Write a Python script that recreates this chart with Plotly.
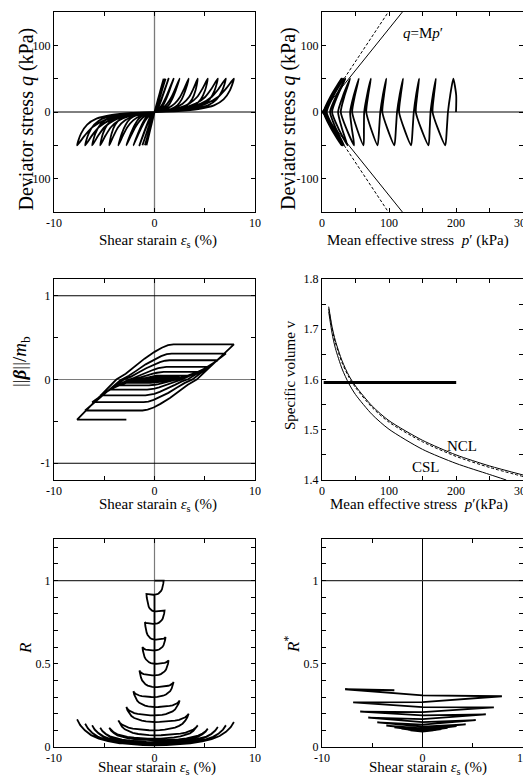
import plotly.graph_objects as go

FONT = "Liberation Serif"

# ---------------- values ----------------
# strain (%) at every q=+50 peak and q=-50 trough of the 12 load cycles
eps_peak   = [0.91, 1.0, 1.1, 1.4, 1.9, 2.5, 3.4, 4.3, 5.3, 6.3, 7.1, 7.9]
eps_trough = [-0.8, -0.95, -1.2, -1.5, -2.1, -2.8, -3.6, -4.5, -5.4, -6.2, -6.9, -7.7]
eps_final = -2.8
q_peak, q_trough = 50, -50
q_final = -4.7
cycle_curv = [0, 0, 0.1, 0.25, 0.45, 0.65, 0.85, 1, 1, 1, 1, 1]

# effective stress path (kPa)
p_load0 = [200, 200.3]
q_load0 = [0, 25]
p_peak   = [196, 170, 145, 121, 96, 73, 55, 42, 35, 32, 30, 29]
p_trough = [184, 159, 133, 108, 83, 62, 48, 38, 33, 31, 30, 29]
p_q0_unload = [188, 162, 137, 112, 87, 63, 42, 24, 12, 5, 3, 2.5]
p_q0_reload = [165, 140, 115, 90, 66, 45, 28, 15, 7, 4, 3]
p_final_path = [15, 5]
q_final_path = [-25, -4.5]
bulge = 0.42

# q = M p' lines: p' where they leave the frame at |q| = 150
p_edge_solid, p_edge_dashed, q_edge = 120, 99, 150

# ||beta||/mb at peaks / troughs
beta_peak   = [0.003, 0.006, 0.01, 0.015, 0.02, 0.03, 0.05, 0.09, 0.15, 0.23, 0.31, 0.42]
beta_trough = [-0.004, -0.008, -0.012, -0.018, -0.025, -0.04, -0.07, -0.12, -0.19, -0.27, -0.37, -0.48]

# R at peaks / troughs, level where each branch meets eps = 0, and the dip there
R_peak   = [1.0, 0.82, 0.66, 0.52, 0.39, 0.28, 0.20, 0.13, 0.11, 0.12, 0.13, 0.15]
R_trough = [0.92, 0.75, 0.60, 0.46, 0.335, 0.24, 0.16, 0.115, 0.115, 0.13, 0.14, 0.166]
R_axis = [0.915, 0.815, 0.74, 0.645, 0.58, 0.50, 0.43, 0.36, 0.30, 0.24, 0.19, 0.15,
          0.10, 0.07, 0.05, 0.04, 0.03, 0.025, 0.02, 0.015, 0.012, 0.01, 0.01]
R_dip = [0.805, 0.73, 0.635, 0.57, 0.49, 0.42, 0.35, 0.29, 0.23, 0.18, 0.14, 0.09,
         0.06, 0.04, 0.03, 0.02, 0.015, 0.01, 0.008, 0.006, 0.005, 0.004, 0.004]
R_start = 1.0
R_final = 0.03

# R* at peaks / troughs and at eps = 0 crossings
Rs_peak   = [0.10, 0.10, 0.10, 0.103, 0.108, 0.115, 0.125, 0.136, 0.162, 0.196, 0.238, 0.305]
Rs_trough = [0.10, 0.10, 0.10, 0.105, 0.11, 0.118, 0.128, 0.148, 0.176, 0.212, 0.268, 0.347]
Rs_mid_after_peak   = [0.095, 0.094, 0.093, 0.093, 0.094, 0.097, 0.105, 0.122, 0.15, 0.19, 0.24, 0.31]
Rs_mid_after_trough = [0.095, 0.094, 0.093, 0.093, 0.095, 0.10, 0.112, 0.135, 0.168, 0.21, 0.27]
Rs_start = 0.095
Rs_final = 0.341

# v - p' lines
p_line = [10, 15, 20, 30, 40, 50, 75, 100, 150, 200, 250, 300]
v_ncl  = [1.745, 1.705, 1.677, 1.637, 1.608, 1.587, 1.547, 1.518, 1.479, 1.450, 1.428, 1.410]
v_ncl2 = [1.741, 1.701, 1.673, 1.633, 1.605, 1.584, 1.544, 1.515, 1.476, 1.447, 1.425, 1.407]
p_csl  = [10, 15, 20, 30, 40, 50, 75, 100, 150, 200, 250, 275]
v_csl  = [1.735, 1.692, 1.662, 1.621, 1.592, 1.570, 1.530, 1.501, 1.461, 1.433, 1.411, 1.400]
v_path = 1.594

# normalised branch shapes read from the loops
unl_eps = [1, 0.9, 0.8, 0.65, 0.45, 0.22, 0]
unl_q   = [1, 0.7, 0.45, 0.25, 0.12, 0.05, 0]
rel_eps = [0, 0.3, 0.55, 0.75, 0.87, 0.95, 1]
rel_q   = [0, 0.03, 0.09, 0.2, 0.38, 0.65, 1]
beta_u = [0, 0.385, 0.42, 0.46, 0.506, 0.57, 0.635, 0.69, 0.75, 0.875, 1]
beta_v = [0, 0, 0.012, 0.045, 0.1, 0.19, 0.3, 0.39, 0.467, 0.733, 1]
R_load_e = [0, 0.15, 0.3, 0.45, 0.6, 0.72, 0.82, 0.9, 0.96, 1]
R_load_r = [0, 0.01, 0.04, 0.09, 0.17, 0.27, 0.4, 0.58, 0.78, 1]
R_unl_e = [1, 0.96, 0.9, 0.82, 0.72, 0.6, 0.45, 0.3, 0.15, 0]
R_unl_d = [0, 0.22, 0.42, 0.6, 0.73, 0.83, 0.91, 0.96, 0.99, 1]


def inter(a, b):
    out = []
    for x, y in zip(a, b):
        out += [x, y]
    return out


def blend(a, b, w):
    return [w * x + (1 - w) * y for x, y in zip(a, b)]


tips_e = inter(eps_peak, eps_trough)
tips_q = inter([q_peak] * 12, [q_trough] * 12)
tips_w = inter(cycle_curv, cycle_curv)
tips_p = inter(p_peak, p_trough)
tips_b = inter(beta_peak, beta_trough)
tips_R = inter(R_peak, R_trough)
tips_Rs = inter(Rs_peak, Rs_trough)
mid_Rs = inter(Rs_mid_after_peak, Rs_mid_after_trough + [0])[:23]
mid_p = inter(p_q0_unload, p_q0_reload + [0])[:23]
n = len(tips_e)

# ---- panel 1: q vs eps
x1, y1 = [0], [0]
le = blend(rel_eps, rel_q, tips_w[0])
for f, g in zip(le[1:], rel_q[1:]):
    x1.append(tips_e[0] * f); y1.append(tips_q[0] * g)
for j in range(n - 1):
    ue = blend(unl_eps, unl_q, tips_w[j])
    for f, g in zip(ue[1:], unl_q[1:]):
        x1.append(tips_e[j] * f); y1.append(tips_q[j] * g)
    le = blend(rel_eps, rel_q, tips_w[j + 1])
    for f, g in zip(le[1:], rel_q[1:]):
        x1.append(tips_e[j + 1] * f); y1.append(tips_q[j + 1] * g)
for f, g in zip(unl_eps[1:], unl_q[1:]):
    if tips_e[-1] * f > eps_final:
        break
    x1.append(tips_e[-1] * f); y1.append(tips_q[-1] * g)
x1.append(eps_final); y1.append(q_final)

# ---- panel 2: q vs p'
x2 = list(p_load0) + [tips_p[0]]
y2 = list(q_load0) + [tips_q[0]]
for j in range(n - 1):
    pA, qA, pB, qB, pm = tips_p[j], tips_q[j], tips_p[j + 1], tips_q[j + 1], mid_p[j]
    x2 += [pm + bulge * (pA - pm), pm, pm + bulge * (pB - pm), pB]
    y2 += [qA / 2, 0, qB / 2, qB]
x2 += p_final_path
y2 += q_final_path

# ---- panel 3: beta vs eps
x3, y3 = [0], [0]
for u, v in zip(beta_u[1:], beta_v[1:]):
    x3.append(tips_e[0] * u); y3.append(tips_b[0] * v)
for j in range(n - 1):
    eA, bA, eB, bB = tips_e[j], tips_b[j], tips_e[j + 1], tips_b[j + 1]
    for u, v in zip(beta_u[1:], beta_v[1:]):
        x3.append(eA + u * (eB - eA)); y3.append(bA + v * (bB - bA))
x3.append(eps_final); y3.append(tips_b[-1])

# ---- panel 5: R vs eps
x5, y5 = [0], [R_start]
for f, r in zip(R_load_e[1:], R_load_r[1:]):
    x5.append(tips_e[0] * f); y5.append(R_start + r * (tips_R[0] - R_start))
for j in range(n - 1):
    A = R_axis[j]
    for f, d in zip(R_unl_e[1:], R_unl_d[1:]):
        x5.append(tips_e[j] * f); y5.append(tips_R[j] - d * (tips_R[j] - A))
    x5 += [0, 0]; y5 += [R_dip[j], A]
    for f, r in zip(R_load_e[1:], R_load_r[1:]):
        x5.append(tips_e[j + 1] * f); y5.append(A + r * (tips_R[j + 1] - A))
for f, d in zip(R_unl_e[1:], R_unl_d[1:]):
    if tips_e[-1] * f > eps_final:
        break
    x5.append(tips_e[-1] * f); y5.append(tips_R[-1] - d * (tips_R[-1] - 0.008))
x5.append(eps_final); y5.append(R_final)

# ---- panel 6: R* vs eps
x6, y6 = [0, tips_e[0]], [Rs_start, tips_Rs[0]]
for j in range(n - 1):
    x6 += [0, tips_e[j + 1]]
    y6 += [mid_Rs[j], tips_Rs[j + 1]]
x6.append(eps_final); y6.append(Rs_final)

fig = go.Figure()
BL = dict(color="black", width=1.8)


def add(x, y, k, line=BL, shape="spline", smoothing=0.7):
    xa = "x" if k == 1 else f"x{k}"
    ya = "y" if k == 1 else f"y{k}"
    kw = dict(shape=shape)
    if shape == "spline":
        kw["smoothing"] = smoothing
    fig.add_trace(go.Scatter(x=x, y=y, mode="lines", xaxis=xa, yaxis=ya,
                             line=dict(**line, **kw), showlegend=False, hoverinfo="skip"))


shapes = []


def hline(k, y, x0, x1_, color="black", w=1):
    shapes.append(dict(type="line", xref=("x" if k == 1 else f"x{k}"), yref=("y" if k == 1 else f"y{k}"),
                       x0=x0, x1=x1_, y0=y, y1=y, line=dict(color=color, width=w), layer="below"))


def vline(k, x, y0, y1_, color="black", w=1):
    shapes.append(dict(type="line", xref=("x" if k == 1 else f"x{k}"), yref=("y" if k == 1 else f"y{k}"),
                       x0=x, x1=x, y0=y0, y1=y1_, line=dict(color=color, width=w), layer="below"))


GR = "#7a7a7a"
vline(1, 0, -150, 150, GR, 1.3); hline(1, 0, -10, 10)
hline(2, 0, 0, 300)
vline(3, 0, -1.2, 1.2, GR, 1.2); hline(3, 0, -10, 10, GR, 1.2); hline(3, 1, -10, 10); hline(3, -1, -10, 10)
vline(5, 0, 0, 1.25, GR, 1.2); hline(5, 1, -10, 10, "#333333", 1.2)
vline(6, 0, 0, 1.25, "black", 1); hline(6, 1, -10, 10, "#333333", 1.2)

add(x1, y1, 1)
add([0, p_edge_solid], [0, q_edge], 2, dict(color="black", width=1), "linear")
add([0, p_edge_solid], [0, -q_edge], 2, dict(color="black", width=1), "linear")
add([0, p_edge_dashed], [0, q_edge], 2, dict(color="black", width=1, dash="3px,2px"), "linear")
add([0, p_edge_dashed], [0, -q_edge], 2, dict(color="black", width=1, dash="3px,2px"), "linear")
add(x2, y2, 2, smoothing=0.6)
add(x3, y3, 3, shape="linear")
add(p_line, v_ncl, 4, dict(color="black", width=1))
add(p_line, v_ncl2, 4, dict(color="black", width=1, dash="3px,2px"))
add(p_csl, v_csl, 4, dict(color="black", width=1))
add([min(x2), max(x2)], [v_path, v_path], 4, dict(color="black", width=3), "linear")
add(x5, y5, 5, shape="linear")
add(x6, y6, 6, shape="linear")

tf = dict(family=FONT, size=12, color="black")


def ax(domain, rng, tv, tt, minor_vals, anchor):
    return dict(domain=domain, range=rng, tickmode="array", tickvals=tv, ticktext=tt, anchor=anchor,
                showline=True, linecolor="black", linewidth=1, mirror="allticks",
                ticks="inside", ticklen=4, tickcolor="black", tickwidth=1,
                minor=dict(tickmode="array", tickvals=minor_vals, ticks="inside", ticklen=4,
                           tickcolor="black", tickwidth=1, showgrid=False),
                showgrid=False, zeroline=False, tickfont=tf, automargin=False,
                ticklabeloverflow="allow", fixedrange=True)


# page body has an 8 px margin: figure is 523 x 772 placed at (8, 8)
W, H, OFF = 523, 772, 8


def xd(a, b):
    return [(a - OFF) / W, (b - OFF) / W]


def yd(top, bottom):
    return [1 - (bottom - OFF) / H, 1 - (top - OFF) / H]


def px(x):
    return (x - OFF) / W


def py(y):
    return 1 - (y - OFF) / H


C1, C2 = xd(54, 255), xd(322, 523)
R1, R2, R3 = yd(12, 212), yd(279, 480), yd(539, 747)

eps_title = "Shear starain <i>ε</i><sub>s</sub> (%)"
p_title = "Mean effective stress \u00a0<i>p</i>′ (kPa)"
p_title4 = "Mean effective stress \u00a0<i>p</i>′(kPa)"
q_title = "Deviator stress <i>q</i> (kPa)"
ev, et, em = [-10, 0, 10], ["-10", "0", "10"], [-5, 5]
pv, pt, pm_ = [0, 100, 200, 300], ["0", "100", "200", "300"], [50, 150, 250]
qv, qt, qm = [-100, 0, 100], ["-100", "0", "100"], [-50, 50]
rv, rt = [0, 0.5, 1], ["0", "0.5", "1"]
rm = [0.1, 0.2, 0.3, 0.4, 0.6, 0.7, 0.8, 0.9, 1.1, 1.2]

# axis titles placed where the reference shows them (page pixels): text, x, y, size, angle
titles = [
    (q_title, 25.5, 119, 20, -90),
    (q_title, 288, 119, 20, -90),
    ("||<b><i>β</i></b>||/<i>m</i><sub>b</sub>", 21, 362, 19, -90),
    ("Specific volume v", 290, 375, 15, -90),
    ("<i>R</i>", 25, 648, 17, -90),
    ("<i>R</i><sup>*</sup>", 292, 645, 17, -90),
    (eps_title, 157.5, 241, 15, 0),
    (p_title, 418, 241, 15, 0),
    (eps_title, 157.5, 505, 15, 0),
    (p_title4, 419, 505, 15, 0),
    (eps_title, 157, 768, 15, 0),
    (eps_title, 428, 768, 15, 0),
]
annotations = [
    dict(text=t, x=px(xx), y=py(yy), xref="paper", yref="paper", textangle=a,
         xanchor="center", yanchor="middle", showarrow=False,
         font=dict(family=FONT, size=s, color="black"))
    for t, xx, yy, s, a in titles
]
annotations += [
    dict(text="<i>q</i>=M<i>p</i>′", x=150, y=118, xref="x2", yref="y2", showarrow=False,
         font=dict(family=FONT, size=15, color="black")),
    dict(text="NCL", x=209, y=1.468, xref="x4", yref="y4", showarrow=False,
         font=dict(family=FONT, size=15, color="black")),
    dict(text="CSL", x=155, y=1.425, xref="x4", yref="y4", showarrow=False,
         font=dict(family=FONT, size=15, color="black")),
]

fig.update_layout(
    width=W, height=H, margin=dict(l=0, r=0, t=0, b=0),
    paper_bgcolor="white", plot_bgcolor="white",
    font=dict(family=FONT, color="black"),
    shapes=shapes,
    xaxis=ax(C1, [-10, 10], ev, et, em, "y"),
    yaxis=ax(R1, [-150, 150], qv, qt, qm, "x"),
    xaxis2=ax(C2, [0, 300], pv, pt, pm_, "y2"),
    yaxis2=ax(R1, [-150, 150], qv, qt, qm, "x2"),
    xaxis3=ax(C1, [-10, 10], ev, et, em, "y3"),
    yaxis3=ax(R2, [-1.2, 1.2], [-1, 0, 1], ["-1", "0", "1"], [-0.5, 0.5], "x3"),
    xaxis4=ax(C2, [0, 300], pv, pt, pm_, "y4"),
    yaxis4=ax(R2, [1.4, 1.8], [1.4, 1.5, 1.6, 1.7, 1.8], ["1.4", "1.5", "1.6", "1.7", "1.8"],
              [1.45, 1.55, 1.65, 1.75], "x4"),
    xaxis5=ax(C1, [-10, 10], ev, et, em, "y5"),
    yaxis5=ax(R3, [0, 1.25], rv, rt, rm, "x5"),
    xaxis6=ax(C2, [-10, 10], ev, et, em, "y6"),
    yaxis6=ax(R3, [0, 1.25], rv, rt, rm, "x6"),
    annotations=annotations,
)

fig.write_html("out.html")
